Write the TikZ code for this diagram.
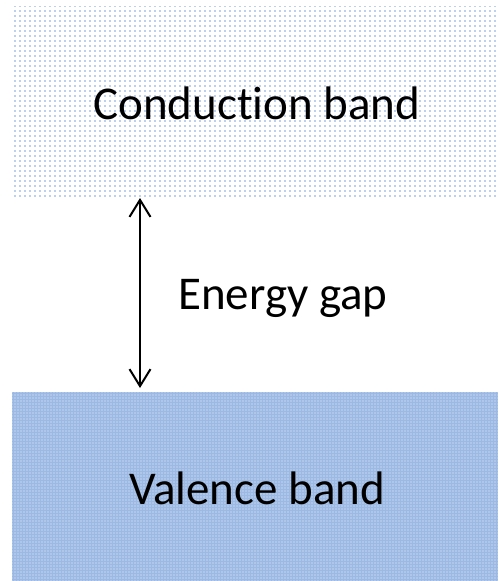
\documentclass[tikz,border=0pt]{standalone}
\usepackage{fontspec}
\setmainfont[Ligatures={NoCommon}]{Carlito}
\usetikzlibrary{patterns.meta,arrows.meta}
\definecolor{dotblue}{RGB}{90,140,215}
\definecolor{bandblue}{RGB}{155,185,226}
\tikzset{
  lbl/.style={font=\fontsize{47}{50}\selectfont, inner sep=0pt},
  gaparrow/.style={{Straight Barb[length=17pt,width=21pt,line width=2pt]}-{Straight Barb[length=17pt,width=21pt,line width=2pt]}, line width=2pt}
}
\begin{document}
\begin{tikzpicture}[x=1pt,y=-1pt]
\useasboundingbox (0,0) rectangle (498,581);
\fill[white] (0,0) rectangle (498,581);
% conduction band
\fill[pattern={Dots[distance=5pt,radius=0.9pt]}, pattern color=dotblue!80] (12,6) rectangle (498,198);
\coordinate (ctop) at (140,198);
% valence band
\fill[bandblue] (12,392) rectangle (498,581);
\fill[pattern={Dots[distance=3pt,radius=0.55pt]}, pattern color=white!85!bandblue] (12,392) rectangle (498,581);
\coordinate (vtop) at (140,388);
\node[lbl] (cb) at (257,103) {Conduction band};
\node[lbl] (eg) at (283,298) {Energy gap};
\node[lbl] (vb) at (257,488) {Valence band};
\draw[gaparrow] (ctop) -- (vtop);
\end{tikzpicture}
\end{document}
